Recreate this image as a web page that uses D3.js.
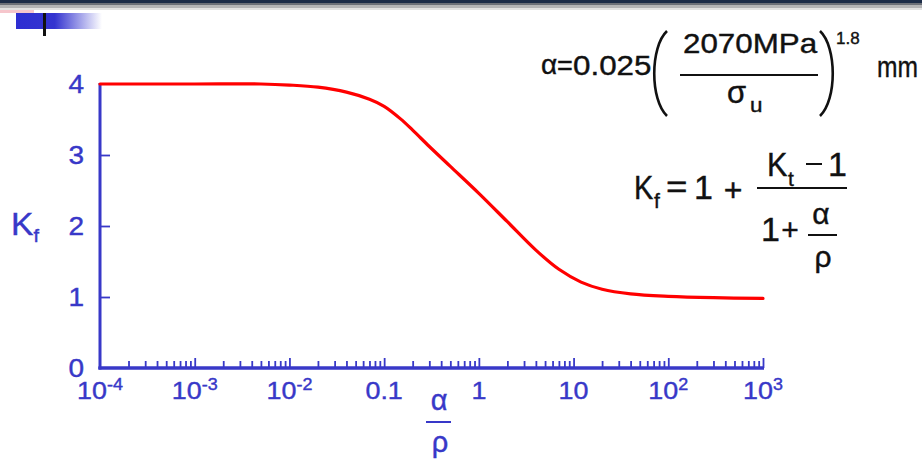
<!DOCTYPE html>
<html>
<head>
<meta charset="utf-8">
<script src="https://cdn.jsdelivr.net/npm/d3@7"></script>
<style>
  html, body { margin: 0; padding: 0; background: #fff; }
  svg { display: block; }
  text { font-family: "Liberation Sans", Arial, sans-serif; }
</style>
</head>
<body>
<svg id="chart" width="922" height="459"></svg>
<script>
// ---- data ----
const ratioValues = [1e-4, 1e-3, 0.005, 0.01, 0.02, 0.04, 0.07, 0.1, 0.15, 0.2, 0.3, 0.5, 1, 2, 4, 7, 12, 20, 40, 100, 300, 1000];
const kfValues    = [4.0, 4.0, 4.0, 3.985, 3.955, 3.885, 3.785, 3.685, 3.505, 3.35, 3.12, 2.84, 2.46, 2.06, 1.66, 1.39, 1.21, 1.11, 1.045, 1.01, 0.99, 0.98];
const yTickValues = [0, 1, 2, 3, 4];
const xLabelValues = [1e-4, 1e-3, 1e-2, 0.1, 1, 10, 100, 1000];
const xLabelBase   = ["10", "10", "10", "0.1", "1", "10", "10", "10"];
const xLabelExp    = ["-4", "-3", "-2", "", "", "", "2", "3"];

const svg = d3.select("#chart");
const BLUE = "#3838c8";
const SX = 1.12; // horizontal stretch of the text in the picture

// ---- top slide decoration ----
const defs = svg.append("defs");
const grad = defs.append("linearGradient").attr("id", "bfade").attr("x1", "0").attr("x2", "1");
grad.append("stop").attr("offset", "0%").attr("stop-color", "#2e2ed2");
grad.append("stop").attr("offset", "45%").attr("stop-color", "#3434d0");
grad.append("stop").attr("offset", "100%").attr("stop-color", "#ffffff");
svg.append("rect").attr("x", 0).attr("y", 0).attr("width", 922).attr("height", 3).attr("fill", "#1c2c48");
svg.append("rect").attr("x", 0).attr("y", 3).attr("width", 922).attr("height", 2).attr("fill", "#6c7078");
svg.append("rect").attr("x", 0).attr("y", 5).attr("width", 922).attr("height", 3).attr("fill", "#b4b4b6");
svg.append("rect").attr("x", 0).attr("y", 8).attr("width", 922).attr("height", 2).attr("fill", "#e2e2e2");
svg.append("rect").attr("x", 0).attr("y", 10).attr("width", 34).attr("height", 3).attr("fill", "#f6c6cc");
svg.append("rect").attr("x", 16).attr("y", 13).attr("width", 86).attr("height", 16).attr("fill", "url(#bfade)");
svg.append("rect").attr("x", 43).attr("y", 13).attr("width", 3).attr("height", 23).attr("fill", "#111");

// ---- scales ----
const x = d3.scaleLog().domain([1e-4, 1e3]).range([100, 763]);
const y = d3.scaleLinear().domain([0, 4]).range([368, 84]);

// helper for stretched text
function txt(parent, px, py, str, size, anchor, color, sx) {
  const c = color || "#111";
  return parent.append("text")
    .attr("transform", `translate(${px},${py}) scale(${sx === undefined ? SX : sx},1)`)
    .attr("text-anchor", anchor || "start")
    .attr("font-size", size)
    .attr("fill", c)
    .attr("stroke", c).attr("stroke-width", 0.4)
    .text(str);
}

// ---- x axis: minor and decade ticks ----
const allTicks = x.ticks().filter(v => v > 1.0001e-4);
const isDecade = v => Math.abs(Math.log10(v) - Math.round(Math.log10(v))) < 1e-6;
const minorAxis = d3.axisBottom(x).tickValues(allTicks.filter(v => !isDecade(v)))
  .tickSize(-7).tickSizeOuter(0).tickFormat("");
const majorAxis = d3.axisBottom(x).tickValues(allTicks.filter(isDecade))
  .tickSize(-10).tickSizeOuter(0).tickFormat("");
const gxm = svg.append("g").attr("transform", "translate(0,368)").call(minorAxis);
const gxM = svg.append("g").attr("transform", "translate(0,368)").call(majorAxis);
[gxm, gxM].forEach(g => {
  g.selectAll(".tick line").attr("stroke", BLUE).attr("stroke-width", 1.8);
  g.select(".domain").attr("stroke", BLUE).attr("stroke-width", 3).attr("d", "M98.5,0H764");
});

// ---- y axis ----
const yAxis = d3.axisLeft(y).tickValues(yTickValues.filter(v => v > 0 && v < 4))
  .tickSize(-10).tickSizeOuter(0).tickFormat("");
const gy = svg.append("g").attr("transform", "translate(100,0)").call(yAxis);
gy.select(".domain").attr("stroke", BLUE).attr("stroke-width", 3).attr("d", "M0,83V369.5");
gy.selectAll(".tick line").attr("stroke", BLUE).attr("stroke-width", 1.8);

// y tick labels
yTickValues.forEach(v => txt(svg, 84, y(v) + 9, String(v), 25, "end", BLUE));

// x tick labels with superscripts
xLabelValues.forEach((v, i) => {
  const t = svg.append("text")
    .attr("transform", `translate(${x(v)},399) scale(${SX},1)`)
    .attr("text-anchor", "middle")
    .attr("font-size", 24)
    .attr("fill", BLUE).attr("stroke", BLUE).attr("stroke-width", 0.4);
  t.append("tspan").text(xLabelBase[i]);
  if (xLabelExp[i]) {
    t.append("tspan").attr("font-size", 16).attr("dy", -9).text(xLabelExp[i]);
  }
});

// y axis label K_f
const kl = svg.append("text").attr("transform", "translate(11,235) scale(1.05,1)")
  .attr("font-size", 32).attr("fill", BLUE).attr("stroke", BLUE).attr("stroke-width", 0.4);
kl.append("tspan").text("K");
kl.append("tspan").attr("font-size", 19).attr("dy", 7).text("f");

// x axis label α/ρ
txt(svg, 439, 410, "α", 29, "middle", BLUE, 1.0);
svg.append("line").attr("x1", 426).attr("x2", 451).attr("y1", 422).attr("y2", 422)
  .attr("stroke", BLUE).attr("stroke-width", 2);
txt(svg, 440, 452, "ρ", 29, "middle", BLUE, 1.0);

// ---- curve ----
const pts = ratioValues.map((v, i) => [v, kfValues[i]]);
const line = d3.line().x(d => x(d[0])).y(d => y(d[1])).curve(d3.curveCatmullRom.alpha(0.5));
svg.append("path").datum(pts).attr("d", line)
  .attr("fill", "none").attr("stroke", "#ff0000").attr("stroke-width", 3.2)
  .attr("stroke-linecap", "round");

// ---- formula 1: α = 0.025 (2070MPa / σu)^1.8 mm ----
const f1 = svg.append("g");
txt(f1, 541, 74, "α", 28, "start", "#111", 1.0);
txt(f1, 557, 75, "=", 27, "start", "#111", 1.0);
txt(f1, 573, 75, "0.025", 28, "start");
f1.append("path").attr("d", "M667,31 C650,47 650,100 667,116")
  .attr("fill", "none").attr("stroke", "#111").attr("stroke-width", 2.6);
txt(f1, 683, 53, "2070MPa", 28, "start");
f1.append("line").attr("x1", 680).attr("x2", 818).attr("y1", 75).attr("y2", 75)
  .attr("stroke", "#111").attr("stroke-width", 2);
txt(f1, 727, 103, "σ", 31, "start", "#111", 1.0);
txt(f1, 750, 112, "u", 20, "start");
f1.append("path").attr("d", "M820,31 C837,47 837,100 820,116")
  .attr("fill", "none").attr("stroke", "#111").attr("stroke-width", 2.6);
txt(f1, 836, 44, "1.8", 17, "start", "#111", 1.0);
txt(f1, 877, 77, "mm", 30, "start", "#111", 0.82);

// ---- formula 2: Kf = 1 + (Kt - 1)/(1 + α/ρ) ----
const f2 = svg.append("g");
txt(f2, 634, 199, "K", 34, "start", "#111", 0.85);
txt(f2, 654, 208, "f", 21, "start", "#111", 1.0);
txt(f2, 666, 197, "=", 32, "start", "#111", 1.15);
txt(f2, 694, 199, "1", 34, "start", "#111", 1.0);
txt(f2, 733, 201, "+", 32, "middle", "#111", 1.0);
txt(f2, 767, 176, "K", 34, "start", "#111", 0.9);
txt(f2, 788, 186, "t", 21, "start", "#111", 1.0);
f2.append("line").attr("x1", 806).attr("x2", 822).attr("y1", 164).attr("y2", 164)
  .attr("stroke", "#111").attr("stroke-width", 2);
txt(f2, 828, 176, "1", 34, "start", "#111", 1.0);
f2.append("line").attr("x1", 757).attr("x2", 847).attr("y1", 188).attr("y2", 188)
  .attr("stroke", "#111").attr("stroke-width", 2);
txt(f2, 761, 241, "1", 34, "start", "#111", 1.0);
txt(f2, 790, 240, "+", 30, "middle", "#111", 1.0);
txt(f2, 821, 224, "α", 30, "middle", "#111", 1.0);
f2.append("line").attr("x1", 808).attr("x2", 837).attr("y1", 235).attr("y2", 235)
  .attr("stroke", "#111").attr("stroke-width", 2);
txt(f2, 823, 267, "ρ", 30, "middle", "#111", 1.0);
</script>
</body>
</html>
